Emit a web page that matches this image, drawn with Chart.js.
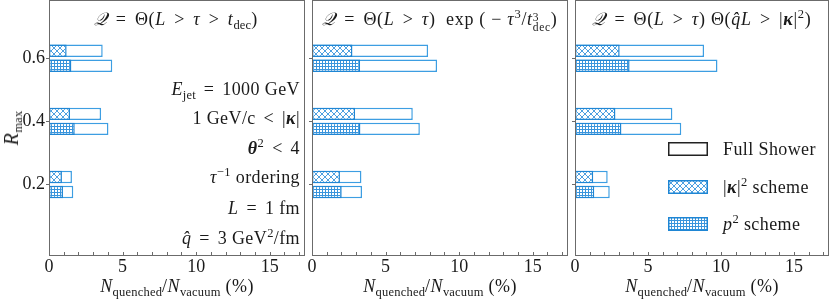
<!DOCTYPE html>
<html><head><meta charset="utf-8">
<script src="https://cdn.jsdelivr.net/npm/chart.js@4.4.1/dist/chart.umd.min.js"></script>
<style>
body{margin:0;background:#fff;}
#wrap{position:relative;width:830px;height:300px;overflow:hidden;background:#fff;font-family:"Liberation Serif","DejaVu Serif",serif;color:#1a1a1a;}
canvas{position:absolute;top:0;}
.t{position:absolute;white-space:nowrap;font-size:18px;line-height:18px;height:18px;letter-spacing:0.4px;}
.c{transform:translateX(-50%);}
.r{text-align:right;}
.op{margin:0 3px;}
.ti{letter-spacing:0.7px;}
sub{font-size:12.5px;vertical-align:-4px;line-height:0;letter-spacing:0.2px;}
sup{font-size:12.5px;vertical-align:7px;line-height:0;}
.ss{display:inline-block;font-size:11.5px;line-height:10px;vertical-align:-6px;text-align:left;}
.sw{position:absolute;}
</style></head>
<body>
<div id="wrap">
  <canvas id="c1" width="305" height="300" style="left:0px"></canvas>
  <canvas id="c2" width="264" height="300" style="left:304px"></canvas>
  <canvas id="c3" width="262" height="300" style="left:567px"></canvas>

  <div class="t c ti" style="left:176px;top:10px"><i>𝒬</i> <span class="op">=</span> Θ(<i>L</i> <span class="op">&gt;</span> <i>τ</i> <span class="op">&gt;</span> <i>t</i><sub>dec</sub>)</div>
  <div class="t c ti" style="left:440px;top:10px"><i>𝒬</i> <span class="op">=</span> Θ(<i>L</i> <span class="op">&gt;</span> <i>τ</i>)&nbsp; exp ( − <i>τ</i><sup>3</sup>/<i>t</i><span class="ss">3<br>dec</span>)</div>
  <div class="t c ti" style="left:702px;top:10px"><i>𝒬</i> <span class="op">=</span> Θ(<i>L</i> <span class="op">&gt;</span> <i>τ</i>) Θ(<i>q̂L</i> <span class="op">&gt;</span> |<b><i>κ</i></b>|<sup>2</sup>)</div>

  <div class="t r" style="right:530px;top:80px"><i>E</i><sub>jet</sub> <span class="op">=</span> 1000 GeV</div>
  <div class="t r" style="right:530px;top:109px">1 GeV/c <span class="op">&lt;</span> |<b><i>κ</i></b>|</div>
  <div class="t r" style="right:530px;top:139px"><b><i>θ</i></b><sup>2</sup> <span class="op">&lt;</span> 4</div>
  <div class="t r" style="right:530px;top:168px"><i>τ</i><sup>−1</sup> ordering</div>
  <div class="t r" style="right:530px;top:199px"><i>L</i> <span class="op">=</span> 1 fm</div>
  <div class="t r" style="right:530px;top:229px"><i>q̂</i> <span class="op">=</span> 3 GeV<sup>2</sup>/fm</div>

  <div class="t c" style="left:177px;top:277px"><i>N</i><sub>quenched</sub>/<i>N</i><sub>vacuum</sub> (%)</div>
  <div class="t c" style="left:440px;top:277px"><i>N</i><sub>quenched</sub>/<i>N</i><sub>vacuum</sub> (%)</div>
  <div class="t c" style="left:702px;top:277px"><i>N</i><sub>quenched</sub>/<i>N</i><sub>vacuum</sub> (%)</div>

  <div class="t" style="left:11px;top:128px;transform:translate(-50%,-50%) rotate(-90deg);font-size:20px;height:20px;line-height:20px"><i>R</i><sub>max</sub></div>

  <canvas class="sw" id="lg1" width="40" height="14" style="left:668px;top:142px"></canvas>
  <canvas class="sw" id="lg2" width="40" height="14" style="left:668px;top:180px"></canvas>
  <canvas class="sw" id="lg3" width="40" height="14" style="left:668px;top:217px"></canvas>
  <div class="t" style="left:723px;top:140px">Full Shower</div>
  <div class="t" style="left:723px;top:178px">|<b><i>κ</i></b>|<sup>2</sup> scheme</div>
  <div class="t" style="left:723px;top:215px"><i>p</i><sup>2</sup> scheme</div>
</div>
<script>
// ---- data ----
const rMax = [0.2, 0.4, 0.6];
const xTickValues = [0, 5, 10, 15];
const yTickValues = [0.2, 0.4, 0.6];

// panel 1: Q = Θ(L > τ > t_dec)
const p1FullKappaRun = [1.56, 3.54, 3.65];
const p1KappaScheme  = [0.88, 1.43, 1.20];
const p1FullP2Run    = [1.65, 4.04, 4.30];
const p1P2Scheme     = [0.95, 1.75, 1.52];

// panel 2: Q = Θ(L > τ) exp(−τ³/t³_dec)
const p2FullKappaRun = [3.36, 6.85, 7.89];
const p2KappaScheme  = [1.90, 2.93, 2.75];
const p2FullP2Run    = [3.40, 7.33, 8.50];
const p2P2Scheme     = [2.02, 3.29, 3.27];

// panel 3: Q = Θ(L > τ) Θ(q̂L > |κ|²)
const p3FullKappaRun = [2.24, 6.67, 8.84];
const p3KappaScheme  = [1.25, 2.77, 3.06];
const p3FullP2Run    = [2.38, 7.28, 9.76];
const p3P2Scheme     = [1.32, 3.18, 3.74];

// ---- styles ----
const EDGE = '#1f86d4';
const FULL_EDGE = '#3d9ee2';
const HATCH = '#3a95dc';
const AXIS = '#6b6b6b';
const FONT = '"Liberation Serif","DejaVu Serif",serif';

function crossPattern() {
  const c = document.createElement('canvas'); c.width = 6; c.height = 6;
  const g = c.getContext('2d');
  g.fillStyle = '#fff'; g.fillRect(0, 0, 6, 6);
  g.strokeStyle = HATCH; g.lineWidth = 0.9;
  g.beginPath();
  g.moveTo(-1, -1); g.lineTo(7, 7);
  g.moveTo(7, -1); g.lineTo(-1, 7);
  g.stroke();
  return g.createPattern(c, 'repeat');
}
function gridPattern() {
  const c = document.createElement('canvas'); c.width = 3; c.height = 3;
  const g = c.getContext('2d');
  g.fillStyle = '#fff'; g.fillRect(0, 0, 3, 3);
  g.fillStyle = HATCH;
  g.fillRect(0, 0, 1, 3); g.fillRect(0, 0, 3, 1);
  return g.createPattern(c, 'repeat');
}

const framePlugin = {
  id: 'frame',
  afterDatasetsDraw(chart) {
    const { ctx, chartArea: a } = chart;
    const xs = chart.scales.x;
    ctx.save();
    ctx.strokeStyle = AXIS; ctx.lineWidth = 1;
    ctx.strokeRect(Math.round(a.left) + 0.5, Math.round(a.top) + 0.5,
      Math.round(a.right - a.left) - 1, Math.round(a.bottom - a.top) - 1);
    ctx.beginPath();
    for (let v = 0; v <= Math.floor(xs.max); v++) {
      const px = Math.round(xs.getPixelForValue(v)) + 0.5;
      ctx.moveTo(px, a.bottom - 1);
      ctx.lineTo(px, a.bottom - 4);
    }
    ctx.stroke();
    ctx.restore();
  }
};

function makePanel(id, yWidth, showYLabels, fullA, kappa, fullB, p2) {
  const pts = arr => arr.map((v, i) => ({ x: v, y: rMax[i] }));
  const common = { borderWidth: 1.5, borderSkipped: false, categoryPercentage: 0.476, barPercentage: 0.83 };
  return new Chart(document.getElementById(id), {
    type: 'bar',
    data: {
      datasets: [
        Object.assign({ label: '|κ|² scheme', data: pts(kappa), stack: 'k', backgroundColor: crossPattern(), borderColor: EDGE }, common),
        Object.assign({ label: 'p² scheme', data: pts(p2), stack: 'p', backgroundColor: gridPattern(), borderColor: EDGE }, common),
        Object.assign({ label: 'Full Shower', data: pts(fullA), stack: 'k', backgroundColor: '#fff', borderColor: FULL_EDGE }, common),
        Object.assign({ label: 'Full Shower', data: pts(fullB), stack: 'p', backgroundColor: '#fff', borderColor: FULL_EDGE }, common)
      ]
    },
    options: {
      indexAxis: 'y',
      responsive: false,
      animation: false,
      devicePixelRatio: 1,
      layout: { padding: { top: 0, right: 0, left: 0, bottom: 0 } },
      plugins: { legend: { display: false }, tooltip: { enabled: false } },
      scales: {
        x: {
          type: 'linear', min: 0, max: 17.4, stacked: false,
          afterBuildTicks: s => { s.ticks = xTickValues.map(v => ({ value: v })); },
          afterFit: s => { s.height = 44; s.paddingLeft = 0; s.paddingRight = 0; s.paddingTop = 0; s.paddingBottom = 0; },
          grid: { display: false },
          border: { display: false },
          ticks: { padding: -8, color: '#1a1a1a', font: { family: FONT, size: 18 }, maxRotation: 0 }
        },
        y: {
          type: 'linear', min: -0.027, max: 0.785, offset: false,
          afterBuildTicks: s => { s.ticks = yTickValues.map(v => ({ value: v })); },
          afterFit: s => { s.width = yWidth; s.paddingLeft = 0; s.paddingRight = 0; s.paddingTop = 0; s.paddingBottom = 0; },
          grid: { display: true, offset: false, drawOnChartArea: false, drawTicks: true, tickLength: 3, color: AXIS },
          border: { display: false },
          ticks: { display: showYLabels, padding: 1, color: '#1a1a1a', font: { family: FONT, size: 18 },
                   callback: v => v.toFixed(1) }
        }
      }
    },
    plugins: [framePlugin]
  });
}

makePanel('c1', 49, true, p1FullKappaRun, p1KappaScheme, p1FullP2Run, p1P2Scheme);
makePanel('c2', 8, false, p2FullKappaRun, p2KappaScheme, p2FullP2Run, p2P2Scheme);
makePanel('c3', 8, false, p3FullKappaRun, p3KappaScheme, p3FullP2Run, p3P2Scheme);

// legend swatches
function swatch(id, fill, edge) {
  const g = document.getElementById(id).getContext('2d');
  g.fillStyle = fill; g.fillRect(0, 0, 40, 14);
  g.strokeStyle = edge; g.lineWidth = 1.5; g.strokeRect(0.75, 0.75, 38.5, 12.5);
}
swatch('lg1', '#fff', '#222');
swatch('lg2', crossPattern(), EDGE);
swatch('lg3', gridPattern(), EDGE);
</script>
</body></html>
